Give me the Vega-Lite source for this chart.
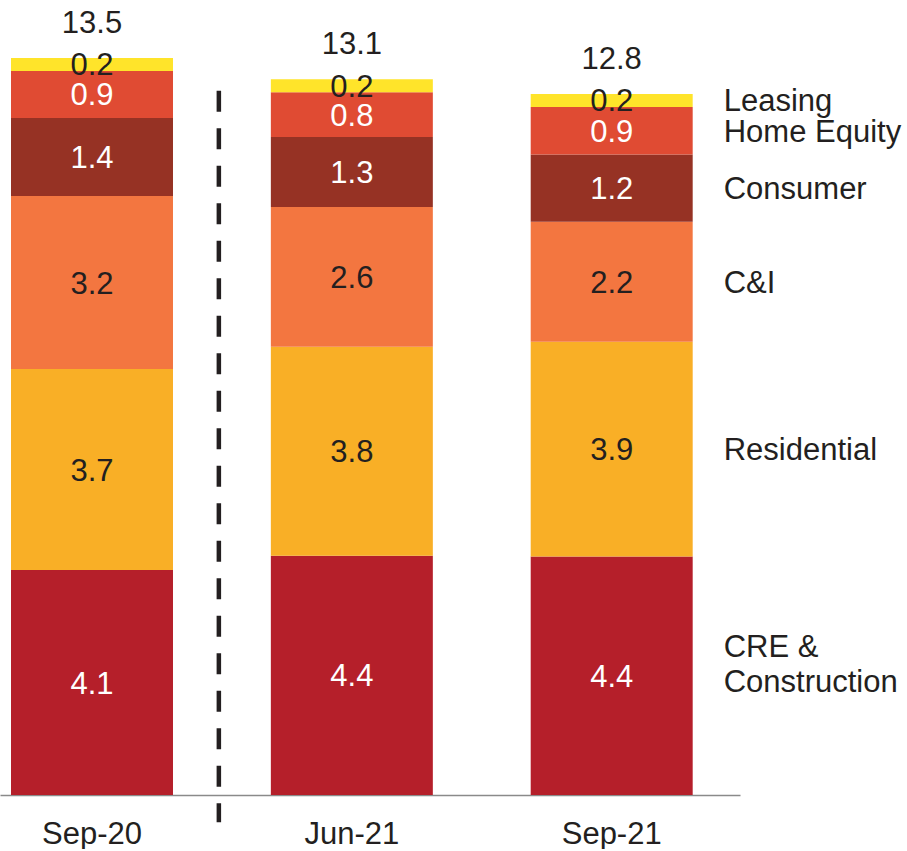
{
  "$schema": "https://vega.github.io/schema/vega-lite/v6.json",
  "width": 740,
  "height": 795,
  "padding": 0,
  "autosize": {"type": "pad"},
  "background": "white",
  "config": {
    "view": {"stroke": null},
    "font": "Liberation Sans",
    "text": {"font": "Liberation Sans"}
  },
  "data": {
    "values": [
      {"period": "Sep-20", "series": "CRE & Construction", "value": 4.12},
      {"period": "Sep-20", "series": "Residential", "value": 3.68},
      {"period": "Sep-20", "series": "C&I", "value": 3.17},
      {"period": "Sep-20", "series": "Consumer", "value": 1.43},
      {"period": "Sep-20", "series": "Home Equity", "value": 0.86},
      {"period": "Sep-20", "series": "Leasing", "value": 0.24},
      {"period": "Jun-21", "series": "CRE & Construction", "value": 4.38},
      {"period": "Jun-21", "series": "Residential", "value": 3.83},
      {"period": "Jun-21", "series": "C&I", "value": 2.56},
      {"period": "Jun-21", "series": "Consumer", "value": 1.28},
      {"period": "Jun-21", "series": "Home Equity", "value": 0.82},
      {"period": "Jun-21", "series": "Leasing", "value": 0.24},
      {"period": "Sep-21", "series": "CRE & Construction", "value": 4.37},
      {"period": "Sep-21", "series": "Residential", "value": 3.93},
      {"period": "Sep-21", "series": "C&I", "value": 2.2},
      {"period": "Sep-21", "series": "Consumer", "value": 1.23},
      {"period": "Sep-21", "series": "Home Equity", "value": 0.87},
      {"period": "Sep-21", "series": "Leasing", "value": 0.24}
    ]
  },
  "transform": [
    {"calculate": "indexof(['CRE & Construction','Residential','C&I','Consumer','Home Equity','Leasing'], datum.series)", "as": "ord"},
    {"stack": "value", "groupby": ["period"], "sort": [{"field": "ord", "order": "ascending"}], "as": ["v0", "v1"]},
    {"calculate": "(datum.v0 + datum.v1) / 2", "as": "mid"}
  ],
  "encoding": {
    "x": {
      "field": "period",
      "type": "nominal",
      "scale": {
        "domain": ["Sep-20", "Jun-21", "Sep-21"],
        "paddingInner": 0.3766,
        "paddingOuter": 0.1122,
        "align": 0.1887,
        "round": false
      },
      "axis": {
        "title": null,
        "labelAngle": 0,
        "ticks": false,
        "tickSize": 0,
        "labelPadding": 24,
        "labelFontSize": 31,
        "labelFont": "Liberation Sans",
        "labelColor": "#231f20",
        "domainColor": "#8a8a8a",
        "domainWidth": 1.5,
        "grid": false
      }
    }
  },
  "layer": [
    {
      "mark": {"type": "bar"},
      "encoding": {
        "y": {
          "field": "v1",
          "type": "quantitative",
          "scale": {"domain": [0, 14.56], "nice": false, "zero": true},
          "axis": null
        },
        "y2": {"field": "v0"},
        "color": {
          "field": "series",
          "type": "nominal",
          "scale": {
            "domain": ["CRE & Construction", "Residential", "C&I", "Consumer", "Home Equity", "Leasing"],
            "range": ["#B51F2A", "#F9AF26", "#F37640", "#963224", "#E04B33", "#FFE42A"]
          },
          "legend": null
        }
      }
    },
    {
      "mark": {"type": "text", "fontSize": 31, "baseline": "middle", "align": "center", "dy": 2},
      "encoding": {
        "y": {"field": "mid", "type": "quantitative"},
        "text": {"field": "value", "type": "quantitative", "format": ".1f"},
        "color": {
          "condition": {"test": "indexof(['CRE & Construction','Consumer','Home Equity'], datum.series) >= 0", "value": "#ffffff"},
          "value": "#231f20"
        }
      }
    },
    {
      "transform": [
        {"aggregate": [{"op": "sum", "field": "value", "as": "total"}], "groupby": ["period"]}
      ],
      "mark": {"type": "text", "fontSize": 31, "baseline": "middle", "align": "center", "dy": -34, "color": "#231f20"},
      "encoding": {
        "y": {"field": "total", "type": "quantitative"},
        "text": {"field": "total", "type": "quantitative", "format": ".1f"}
      }
    },
    {
      "transform": [
        {"filter": "datum.period === 'Sep-21'"},
        {"calculate": "replace(datum.series, '& ', '&\\n')", "as": "label"}
      ],
      "mark": {
        "type": "text", "fontSize": 31, "baseline": "middle", "align": "left", "dx": 31,
        "dy": {"expr": "2 - (length(split(datum.label, '\\n')) - 1) * 17.5 - (length(split(datum.label, '\\n')) - 1) * 12"},
        "color": "#231f20", "lineBreak": "\n", "lineHeight": 35
      },
      "encoding": {
        "x": {"field": "period", "type": "nominal", "bandPosition": 1},
        "y": {"field": "mid", "type": "quantitative"},
        "text": {"field": "label"}
      }
    },
    {
      "data": {"values": [{}]},
      "mark": {"type": "rule", "color": "#231f20", "strokeWidth": 4.5, "strokeDash": [21, 16.5], "strokeCap": "butt", "xOffset": -52},
      "encoding": {
        "x": {"datum": "Jun-21", "type": "nominal", "bandPosition": 0},
        "y": {"datum": 12.9, "type": "quantitative"},
        "y2": {"datum": -0.5}
      }
    }
  ]
}
